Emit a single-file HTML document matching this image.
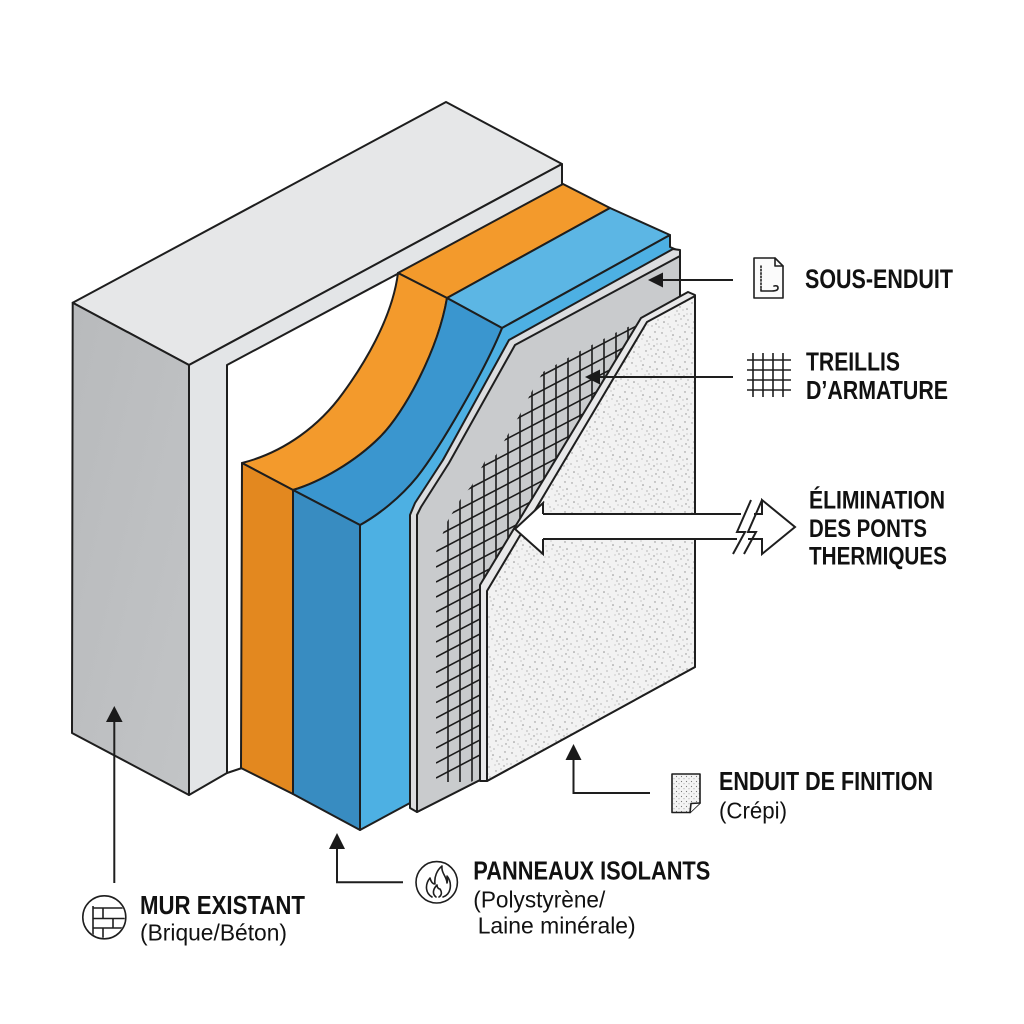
<!DOCTYPE html>
<html>
<head>
<meta charset="utf-8">
<style>
html,body{margin:0;padding:0;background:#ffffff;}
body{width:1024px;height:1024px;overflow:hidden;}
svg{display:block;}
text{font-family:"Liberation Sans",Arial,sans-serif;fill:#111;}
.b{font-weight:bold;}
</style>
</head>
<body>
<svg width="1024" height="1024" viewBox="0 0 1024 1024" xmlns="http://www.w3.org/2000/svg">
<defs>
  <pattern id="speck" width="30" height="30" patternUnits="userSpaceOnUse">
    <rect width="30" height="30" fill="#f2f2f2"/>
    <g fill="#8d8d8d">
      <circle cx="2" cy="3" r="0.7"/><circle cx="7" cy="11" r="0.6"/><circle cx="13" cy="5" r="0.8"/>
      <circle cx="19" cy="14" r="0.6"/><circle cx="25" cy="2" r="0.7"/><circle cx="28" cy="20" r="0.6"/>
      <circle cx="4" cy="22" r="0.8"/><circle cx="10" cy="27" r="0.6"/><circle cx="16" cy="21" r="0.7"/>
      <circle cx="22" cy="26" r="0.6"/><circle cx="27" cy="9" r="0.8"/><circle cx="9" cy="17" r="0.6"/>
      <circle cx="14" cy="29" r="0.6"/><circle cx="20" cy="7" r="0.7"/><circle cx="1" cy="14" r="0.6"/>
      <circle cx="24" cy="16" r="0.7"/><circle cx="6" cy="6" r="0.5"/><circle cx="17" cy="11" r="0.6"/>
      <circle cx="11" cy="1" r="0.5"/><circle cx="29" cy="27" r="0.6"/><circle cx="3" cy="28" r="0.5"/>
      <circle cx="21" cy="19" r="0.6"/><circle cx="15" cy="15" r="0.5"/><circle cx="26" cy="24" r="0.7"/>
      <circle cx="8" cy="24" r="0.5"/><circle cx="12" cy="9" r="0.5"/><circle cx="23" cy="10" r="0.5"/>
      <circle cx="5" cy="17" r="0.5"/><circle cx="18" cy="25" r="0.5"/><circle cx="27" cy="14" r="0.5"/>
    </g>
  </pattern>
  <pattern id="dotsm" width="5" height="5" patternUnits="userSpaceOnUse">
    <rect width="5" height="5" fill="#f4f4f4"/>
    <circle cx="1.5" cy="1.5" r="0.6" fill="#777"/>
    <circle cx="4" cy="3.8" r="0.5" fill="#888"/>
  </pattern>
  <linearGradient id="darkface" x1="0" y1="0" x2="1" y2="1">
    <stop offset="0" stop-color="#b8babc"/>
    <stop offset="1" stop-color="#c2c4c6"/>
  </linearGradient>
  <clipPath id="meshclip">
    <polygon points="436,800 436,552 447,522 460,500 472,485 485,461 496,455 507,436 519,416 532,391 543,372 580,351 617,332 648,318 700,300 700,800"/>
  </clipPath>
  <clipPath id="boardclip">
    <path d="M418,811 L418,515 L422,507 L450,463 L516,346 L679,257 L679,330 L480,777 Z"/>
  </clipPath>
  <clipPath id="brickclip"><circle cx="104.3" cy="917.3" r="20.5"/></clipPath>
</defs>

<g stroke="#1e1e1e" stroke-width="2" stroke-linejoin="round">
  <!-- Existing wall -->
  <polygon points="72.7,302.7 446,102 562,164 189,365" fill="#e6e7e8"/>
  <polygon points="72.7,302.7 189,365 189,795 72,733" fill="url(#darkface)"/>
  <path d="M189,365 L562,164 L562,186 L227,365 L227,773 L189,795 Z" fill="#e3e5e7"/>
  <path d="M227,773 L242,768" fill="none"/>

  <!-- Orange layer -->
  <path d="M398,273 L563,184 L610,208 L447,298 Z" fill="#f39a2c"/>
  <path d="M242,463 C285,452 320,425 343,393 C362,367 392,320 398,273 L447,298 C438,350 405,412 380,437 C355,462 320,482 293,490 Z" fill="#f39a2c"/>
  <path d="M242,463 L293,490 L293,794 L241,768 Z" fill="#e3881f"/>

  <!-- Blue layer -->
  <path d="M447,298 L610,208 L670,235 L502,328 Z" fill="#5cb6e4"/>
  <path d="M360,525 C378,515 400,498 417,477 C440,448 485,370 502,328 L670,235 L670,247 L677,250 L513,338 L443,460 L413,508 L410,520 L410,803 L360,830 Z" fill="#4db0e3"/>
  <path d="M293,490 C320,482 355,462 380,437 C405,412 438,350 447,298 L502,328 C485,370 440,448 417,477 C400,498 378,515 360,525 Z" fill="#3a96cf"/>
  <path d="M293,490 L360,525 L360,830 L293,794 Z" fill="#388cc1"/>

  <!-- Sous-enduit board -->
  <path d="M410,808 L410,515 L415,503 L443,460 L509,340 L673,249 L680,250 L680,330 L480,780 L417,812 Z" fill="#dcdddf"/>
  <path d="M417,812 L417,515 L421,507 L449,463 L515,345 L680,256 L680,330 L480,780 Z" fill="#c9cbcd"/>
</g>

<!-- Mesh -->
<g clip-path="url(#boardclip)">
<g clip-path="url(#meshclip)" stroke="#1c1c1c" stroke-width="1.6" fill="none">
  <path d="M436,778 L700,639.7 M436,763 L700,624.7 M436,748 L700,609.7 M436,733 L700,594.7 M436,718 L700,579.7 M436,702.5 L700,564.2 M436,687.5 L700,549.2 M436,672.5 L700,534.2 M436,657 L700,518.7 M436,642 L700,503.7 M436,627 L700,488.7 M436,612 L700,473.7 M436,597 L700,458.7 M436,582 L700,443.7 M436,567 L700,428.7 M436,551.5 L700,413.2 M436,536.5 L700,398.2 M436,521.5 L700,383.2 M436,506 L700,367.7 M436,491 L700,352.7 M436,476 L700,337.7 M436,461 L700,322.7 M436,446 L700,307.7 M436,431 L700,292.7 M436,416 L700,277.7 M436,401 L700,262.7"/>
  <path d="M448,300 V782 M460,300 V782 M472,300 V782 M484,300 V782 M496,300 V782 M508,300 V782 M520,300 V782 M532,300 V782 M544,300 V782 M556,300 V782 M568,300 V782 M580,300 V782 M592,300 V782 M604,300 V782 M616,300 V782 M628,300 V782 M640,300 V782"/>
</g>
</g>

<!-- Finish coat -->
<g stroke="#1e1e1e" stroke-width="2" stroke-linejoin="round">
  <path d="M480,781 L480,585 L641,318 L688,292 L695,295 L695,667 L487,781 Z" fill="#e8e8e9"/>
  <path d="M487,781 L487,591 L647,322 L695,296 L695,667 Z" fill="url(#speck)"/>
</g>

<!-- Thermal bridge hollow arrow -->
<path d="M515,529 L543,503 L543,514 L742,514 L736,539 L543,539 L543,554 Z" fill="#ffffff"/>
<path d="M752,514 L762,514 L762,500 L795,527 L762,554 L762,539 L746,539 Z" fill="#ffffff"/>
<g stroke="#1e1e1e" stroke-width="2" fill="none" stroke-linejoin="miter">
  <path d="M543,514 L543,503 L515,529 L543,554 L543,539"/>
  <path d="M543,514 H741 M543,539 H737"/>
  <path d="M733,554 L745,532 L737,532 L751,500"/>
  <path d="M744,554 L756,532 L748,532 L762,500"/>
  <path d="M754,514 H762 L762,500 L795,527 L762,554 L762,539 H748"/>
</g>

<!-- Leader lines & arrowheads -->
<g stroke="#1e1e1e" stroke-width="2" fill="none">
  <path d="M662,280 H733"/>
  <path d="M600,377 H733"/>
  <path d="M114.3,718 V883"/>
  <path d="M337,846 V882.3 H403"/>
  <path d="M573.5,757 V793 H650"/>
</g>
<g fill="#1a1a1a">
  <polygon points="648,280 663,272.5 663,287.5"/>
  <polygon points="585,377 600,369.5 600,384.5"/>
  <polygon points="114.3,706 106,722 122.6,722"/>
  <polygon points="337,833 329,849 345,849"/>
  <polygon points="573.5,744 565.5,760 581.5,760"/>
</g>

<!-- Icons -->
<g stroke="#1e1e1e" stroke-width="1.6" fill="none" stroke-linejoin="round" stroke-linecap="round">
  <!-- sous-enduit doc -->
  <path d="M754,258 L775,258 L783,266 L783,298 L754,298 Z" fill="#fbfbfb"/>
  <path d="M775,258 L775,266 L783,266"/>
  <path d="M761,266 V288" stroke-dasharray="1.4 2"/>
  <path d="M761,289 V291 L772,291 Q778,291 778,288 Q778,285 774,286"/>
  <!-- treillis grid -->
  <path d="M753,353 V397 M763,353 V397 M773,353 V397 M783,353 V397 M747,360 H791 M747,370 H791 M747,380 H791 M747,390 H791" stroke-linecap="butt"/>
  <!-- finition doc -->
  <path d="M672,774 L700,774 L700,803 L690,812.5 L672,812.5 Z" fill="url(#dotsm)"/>
  <path d="M700,803 L691,803.5 L690,812.5" fill="#fff"/>
  <!-- brick -->
  <circle cx="104.3" cy="917.3" r="21.5"/>
  <g clip-path="url(#brickclip)">
    <path d="M93,906 V940 M93,908 H130 M93,918.5 H130 M93,928 H130 M103,908 V918.5 M113,918.5 V928 M103,928 V940" stroke-linecap="butt"/>
  </g>
  <!-- flame -->
  <circle cx="436.7" cy="882.3" r="20.7"/>
  <path d="M432,897 C425,893 425,884 430,878 C431,882 433,884 435,884 C434,877 437,870 442,866 C441,873 447,877 447,883 C448,880 447,878 447,876 C452,882 452,894 443,897"/>
  <path d="M436,897 C432,894 433,889 437,885 C437,888 439,889 440,889 C442,892 442,895 439,897"/>
</g>

<!-- Labels -->
<text class="b" x="805" y="288" font-size="26.5" textLength="148" lengthAdjust="spacingAndGlyphs">SOUS-ENDUIT</text>
<text class="b" x="806" y="370.5" font-size="25.5" textLength="94" lengthAdjust="spacingAndGlyphs">TREILLIS</text>
<text class="b" x="806" y="399" font-size="25.5" textLength="142" lengthAdjust="spacingAndGlyphs">D’ARMATURE</text>
<text class="b" x="809" y="508.3" font-size="25" textLength="136" lengthAdjust="spacingAndGlyphs">ÉLIMINATION</text>
<text class="b" x="809" y="537" font-size="25" textLength="118" lengthAdjust="spacingAndGlyphs">DES PONTS</text>
<text class="b" x="809" y="564.5" font-size="25" textLength="138" lengthAdjust="spacingAndGlyphs">THERMIQUES</text>
<text class="b" x="719" y="790" font-size="25.5" textLength="214" lengthAdjust="spacingAndGlyphs">ENDUIT DE FINITION</text>
<text x="719" y="818.3" font-size="23" textLength="68" lengthAdjust="spacingAndGlyphs">(Crépi)</text>
<text class="b" x="473.3" y="879.3" font-size="25.5" textLength="237" lengthAdjust="spacingAndGlyphs">PANNEAUX ISOLANTS</text>
<text x="473.3" y="907.3" font-size="23.5" textLength="132" lengthAdjust="spacingAndGlyphs">(Polystyrène/</text>
<text x="477.7" y="933.3" font-size="23.5" textLength="158" lengthAdjust="spacingAndGlyphs">Laine minérale)</text>
<text class="b" x="140" y="914" font-size="26" textLength="165" lengthAdjust="spacingAndGlyphs">MUR EXISTANT</text>
<text x="140" y="940.7" font-size="23" textLength="147" lengthAdjust="spacingAndGlyphs">(Brique/Béton)</text>
</svg>
</body>
</html>
